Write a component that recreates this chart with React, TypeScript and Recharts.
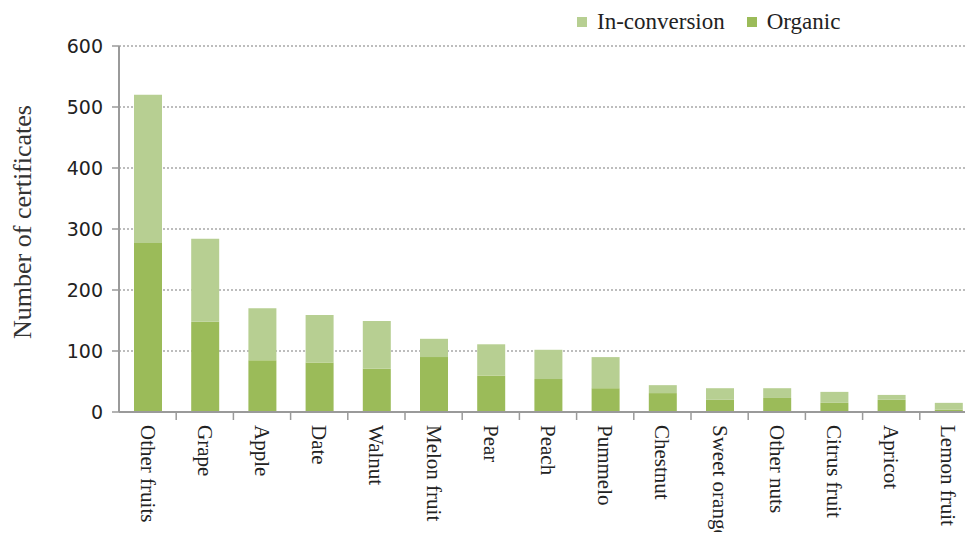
import React from "react";
import { BarChart, Bar, XAxis, YAxis, CartesianGrid, Label } from "recharts";

const categories = [
  "Other fruits", "Grape", "Apple", "Date", "Walnut", "Melon fruit", "Pear", "Peach",
  "Pummelo", "Chestnut", "Sweet orange", "Other nuts", "Citrus fruit", "Apricot", "Lemon fruit",
];
const organic = [277, 148, 85, 81, 71, 90, 60, 54, 39, 31, 20, 23, 15, 20, 4];
const inConversion = [243, 136, 85, 78, 78, 30, 51, 48, 51, 13, 19, 16, 18, 8, 11];
const yTicks = [0, 100, 200, 300, 400, 500, 600];

const ORGANIC = "#9bbb59";
const IN_CONV = "#b7cf92";
const AXIS = "#9a9a9a";
const SERIF = "'Liberation Serif', 'Times New Roman', serif";
const SANS = "'DejaVu Sans', Verdana, sans-serif";

const data = categories.map((name, i) => ({ name, organic: organic[i], inConversion: inConversion[i] }));

const legendItems = [
  { label: "In-conversion", color: IN_CONV },
  { label: "Organic", color: ORGANIC },
];

// band width of one category, used to put tick marks between bars
const BAND = (977 - 119) / categories.length;

function CategoryTick(props: any) {
  const { x, y, payload, index } = props;
  return (
    <g>
      {index < categories.length - 1 && (
        <line x1={x + BAND / 2} x2={x + BAND / 2} y1={y} y2={y + 8} stroke={AXIS} strokeWidth={1.5} />
      )}
      <text
        transform={`translate(${x},${y + 13}) rotate(90)`}
        textAnchor="start"
        dy="0.33em"
        fontFamily={SERIF}
        fontSize={21}
        fill="#222"
      >
        {payload.value}
      </text>
    </g>
  );
}

export default function App() {
  return (
    <div style={{ margin: -8, width: 973, height: 540, overflow: "hidden", background: "#fff", position: "relative" }}>
      <div
        style={{
          position: "absolute", top: 9, left: 577, display: "flex", alignItems: "center",
          fontFamily: SERIF, fontSize: 23, color: "#222", zIndex: 1,
        }}
      >
        {legendItems.map((it) => (
          <div key={it.label} style={{ display: "flex", alignItems: "center", marginRight: 22 }}>
            <span style={{ display: "inline-block", width: 10, height: 10, background: it.color, marginRight: 10 }} />
            {it.label}
          </div>
        ))}
      </div>
      <BarChart width={980} height={540} data={data} margin={{ top: 46, right: 3, left: 0, bottom: 0 }}>
        <CartesianGrid vertical={false} stroke="#a8a8a8" strokeDasharray="2 2" strokeWidth={1.5} />
        <XAxis
          dataKey="name"
          height={128}
          interval={0}
          tickSize={0}
          tickMargin={0}
          axisLine={{ stroke: AXIS, strokeWidth: 2 }}
          tickLine={false}
          tick={<CategoryTick />}
        />
        <YAxis
          width={119}
          domain={[0, 600]}
          ticks={yTicks}
          axisLine={{ stroke: AXIS, strokeWidth: 2 }}
          tickLine={{ stroke: AXIS, strokeWidth: 1.5 }}
          tickSize={7}
          tickMargin={9}
          tick={{ fontFamily: SANS, fontSize: 19, fill: "#222" }}
        >
          <Label
            value="Number of certificates"
            angle={-90}
            position="insideLeft"
            offset={0}
            dx={22}
            dy={-7}
            style={{ fontFamily: SERIF, fontSize: 26, fill: "#333", textAnchor: "middle" }}
          />
        </YAxis>
        <Bar dataKey="organic" stackId="a" fill={ORGANIC} barSize={28} isAnimationActive={false} />
        <Bar dataKey="inConversion" stackId="a" fill={IN_CONV} barSize={28} isAnimationActive={false} />
      </BarChart>
    </div>
  );
}
